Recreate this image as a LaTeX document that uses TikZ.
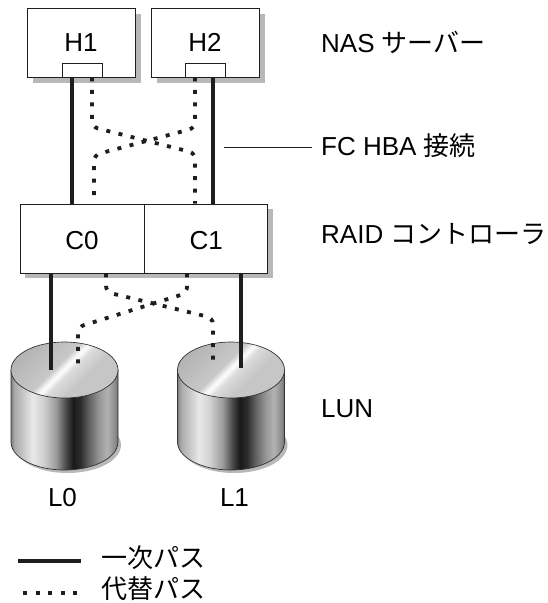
\documentclass[tikz,border=0pt]{standalone}
\usepackage{fontspec}
\setmainfont{Liberation Sans}
\newfontfamily\jp{Noto Sans CJK JP}
\usetikzlibrary{calc,backgrounds}

\definecolor{shadowgrey}{HTML}{B8B8B8}
\definecolor{lineblack}{HTML}{1E1E1E}
% metallic side of a disk
\definecolor{sA}{HTML}{7E7E7E}
\definecolor{sB}{HTML}{A8A8A8}
\definecolor{sC}{HTML}{E8E8E8}
\definecolor{sD}{HTML}{D2D2D2}
\definecolor{sE}{HTML}{9C9C9C}
\definecolor{sF}{HTML}{444444}
\definecolor{sG}{HTML}{1A1A1A}
\definecolor{sH}{HTML}{2C2C2C}
\definecolor{sI}{HTML}{5C5C5C}
\definecolor{sJ}{HTML}{959595}
\definecolor{sK}{HTML}{B2B2B2}
\definecolor{sL}{HTML}{8C8C8C}
\definecolor{sM}{HTML}{6E6E6E}
% brushed top of a disk
\definecolor{tA}{HTML}{B4B4B4}
\definecolor{tB}{HTML}{C8C8C8}
\definecolor{tW}{HTML}{FAFAFA}
\definecolor{tC}{HTML}{DCDCDC}
\definecolor{tD}{HTML}{C6C6C6}

\pgfdeclarehorizontalshading{cylside}{100bp}{%
  color(0bp)=(sA); color(25bp)=(sA); color(26.5bp)=(sB); color(35bp)=(sC);
  color(40bp)=(sD); color(46bp)=(sE); color(51bp)=(sF); color(54bp)=(sG);
  color(57.5bp)=(sH); color(61bp)=(sI); color(66bp)=(sJ); color(70bp)=(sK);
  color(73.5bp)=(sL); color(75bp)=(sM); color(100bp)=(sM)}
\pgfdeclarehorizontalshading{cyltop}{100bp}{%
  color(0bp)=(tA); color(25bp)=(tA); color(45bp)=(tB); color(49bp)=(tW);
  color(50bp)=(tW); color(53bp)=(tC); color(62bp)=(tD); color(75bp)=(tD);
  color(100bp)=(tD)}

\tikzset{
  lbl/.style={font=\fontsize{26}{31}\selectfont, inner sep=0pt},
  hostbox/.style={draw=lineblack, line width=0.8pt, fill=white,
    minimum width=108pt, minimum height=69pt, inner sep=0pt,
    font=\fontsize{26}{31}\selectfont, text height=18.5pt, text depth=0pt},
  ctrlbox/.style={draw=lineblack, line width=0.8pt, fill=white,
    minimum height=69pt, inner sep=0pt,
    font=\fontsize{26}{31}\selectfont, text height=22pt, text depth=0pt},
  portbox/.style={draw=lineblack, line width=0.8pt, fill=white,
    minimum width=40pt, minimum height=14pt, inner sep=0pt},
  primary/.style={draw=lineblack, line width=3.2pt},
  alternate/.style={draw=lineblack, line width=3.8pt,
    dash pattern=on 4pt off 8.5pt, rounded corners=6pt},
  leader/.style={draw=lineblack, line width=0.6pt},
  dropshadow/.style={fill=shadowgrey},
}

% a LUN drawn as a brushed-metal cylinder; #1 = centre x, #2 = name of top centre
\newcommand{\lundisk}[2]{%
  \fill[shadowgrey] (#1+3,445) ellipse [x radius=53.5, y radius=28];
  \shadedraw[shading=cylside, draw=black!80, line width=0.7pt]
    (#1-53.5,370) -- (#1-53.5,442)
    arc[start angle=180, end angle=0, x radius=53.5, y radius=28]
    -- (#1+53.5,370) -- cycle;
  \shadedraw[shading=cyltop, shading angle=-45, draw=black!80, line width=0.7pt]
    (#1,370) ellipse [x radius=53.5, y radius=28];
  \coordinate (#2) at (#1,370);
}

\begin{document}
\begin{tikzpicture}[x=1pt, y=-1pt]
\useasboundingbox (0,0) rectangle (547,603);

% storage units
\lundisk{64.5}{l0}
\lundisk{231}{l1}

% NAS heads with their HBA ports
\node[hostbox] (h1) at (81,42.5) {H1};
\node[hostbox] (h2) at (205,42.5) {H2};
\node[portbox, anchor=south] (p1) at ([xshift=1pt]h1.south) {};
\node[portbox, anchor=south] (p2) at (h2.south) {};

% dual RAID controller
\node[ctrlbox, minimum width=124pt] (c0) at (82,238.5) {C0};
\node[ctrlbox, minimum width=123pt, anchor=west] (c1) at (c0.east) {C1};

\begin{scope}[on background layer]
  \fill[dropshadow] ([shift={(6,6)}]h1.south west) rectangle ([shift={(6,6)}]h1.north east);
  \fill[dropshadow] ([shift={(6,6)}]h2.south west) rectangle ([shift={(6,6)}]h2.north east);
  \fill[dropshadow] ([shift={(5,5)}]c0.south west) rectangle ([shift={(5,5)}]c1.north east);
\end{scope}

% host to controller paths
\draw[primary] ([xshift=-10pt]p1.south) -- ([xshift=-10pt]p1.south |- c0.north);
\draw[primary] ([xshift=8pt]p2.south) -- ([xshift=8pt]p2.south |- c1.north);
\draw[alternate] ([xshift=10pt]p1.south) -- (92,127) -- (195,153) -- (195,0 |- c1.north);
\draw[alternate] ([xshift=-10pt]p2.south) -- (195,128) -- (94,155) -- (94,0 |- c0.north);

% controller to LUN paths
\draw[primary] (51,0 |- c0.south) -- ([xshift=-13.5pt]l0);
\draw[primary] (241,0 |- c1.south) -- ([shift={(10,-2)}]l1);
\draw[alternate] (106,0 |- c0.south) -- (106,292) -- (213,318) -- ([shift={(-18,-8)}]l1);
\draw[alternate] (187,0 |- c1.south) -- (187,293) -- (78,327) -- ([shift={(13.5,-2)}]l0);

% captions
\node[lbl, anchor=base west] (nas) at (321,52) {NAS {\jp サーバー}};
\node[lbl, anchor=base west] (fc) at (321,155) {FC HBA {\jp 接続}};
\node[lbl, anchor=base west] (raid) at (321,243) {RAID {\jp コントローラ}};
\node[lbl, anchor=base west] (lun) at (321,417) {LUN};
\node[lbl, anchor=base] (l0name) at (62.5,506) {L0};
\node[lbl, anchor=base] (l1name) at (234.5,506) {L1};

\coordinate (fctick) at (224,147);
\draw[leader] (fctick) -- ([xshift=-9pt]fc.west |- fctick);

% legend
\coordinate (pa) at (18,561);
\coordinate (pb) at (81,561);
\coordinate (aa) at (23,593);
\coordinate (ab) at (81,593);
\draw[primary] (pa) -- (pb);
\draw[alternate] (aa) -- (ab);
\node[lbl, anchor=base west] (lgp) at (101,567) {\jp 一次パス};
\node[lbl, anchor=base west] (lga) at (101,598) {\jp 代替パス};
\end{tikzpicture}
\end{document}
